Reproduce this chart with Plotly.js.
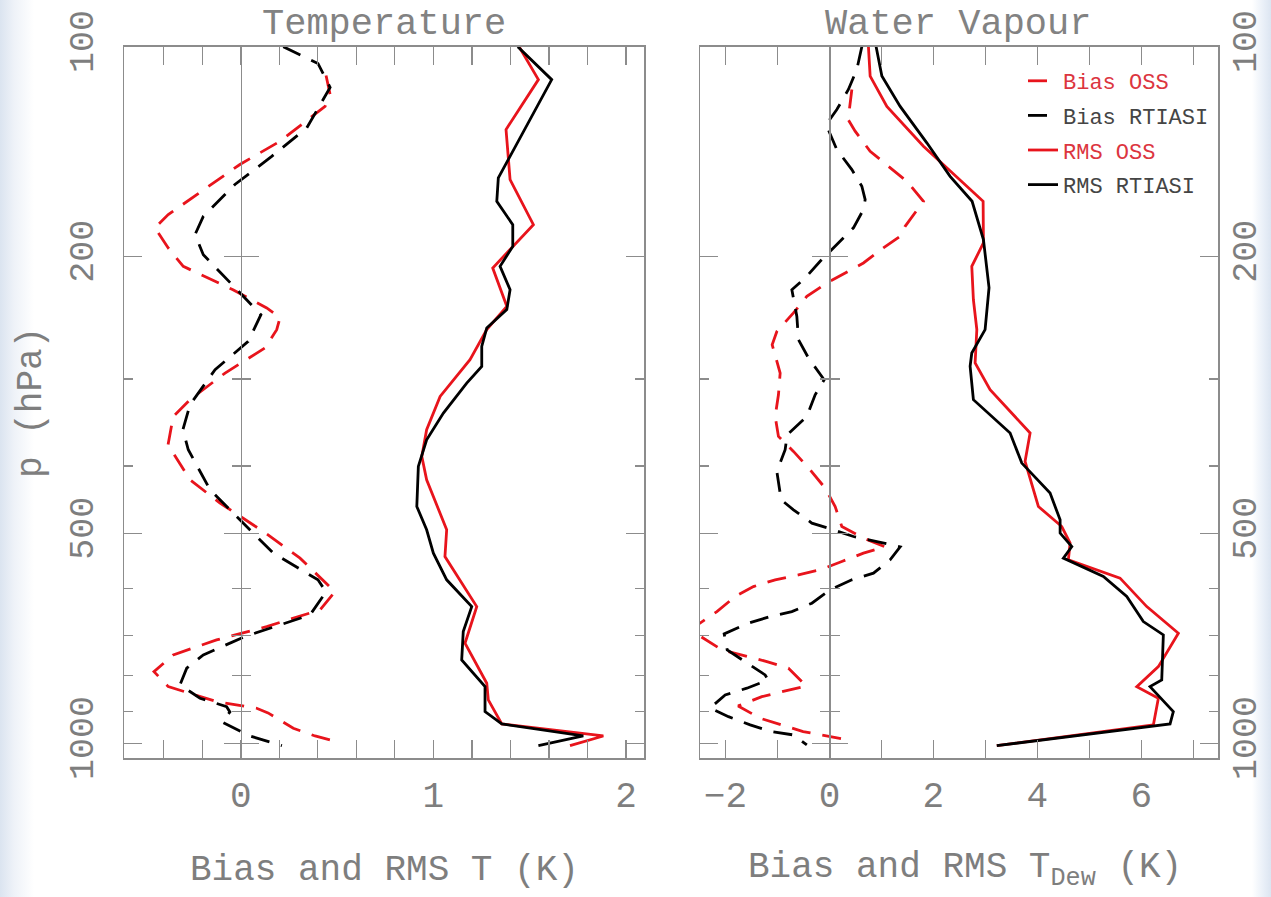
<!DOCTYPE html>
<html>
<head>
<meta charset="utf-8">
<script src="https://cdn.plot.ly/plotly-3.0.1.min.js"></script>
<style>
  html, body { margin: 0; padding: 0; }
  body {
    width: 1271px; height: 897px; overflow: hidden;
    background: linear-gradient(to right, #dbe4f0 0px, #eef2f8 14px, #ffffff 34px, #ffffff 1252px, #eaf0f8 1263px, #dce5f1 1271px);
  }
  #chart { width: 1271px; height: 897px; }
</style>
</head>
<body>
<div id="chart"></div>
<script>
// ---- Temperature profiles (pressure in hPa, values in K) ----
const tBiasOssP = [110.0, 117.1, 121.8, 136.7, 147.6, 160.4, 174.2, 181.9, 194.5, 206.7, 223.3, 237.2, 244.9, 254.8, 270.7, 294.1, 321.2, 339.5, 372.8, 418.5, 452.1, 496.6, 542.3, 606.2, 643.4, 680.0, 710.6, 746.7, 789.1, 829.3, 871.4, 890.7, 904.6, 951.6, 976.2, 995.7];
const tBiasOss  = [0.443, 0.464, 0.438, 0.204, -0.004, -0.194, -0.376, -0.445, -0.376, -0.298, -0.040, 0.135, 0.204, 0.187, 0.126, -0.081, -0.263, -0.350, -0.377, -0.263, -0.107, 0.117, 0.308, 0.489, 0.412, 0.135, -0.125, -0.350, -0.450, -0.376, -0.125, 0.083, 0.142, 0.273, 0.386, 0.505];

const tBiasRtP = [100, 105.7, 114.4, 130.8, 143.7, 157.7, 175.2, 186.1, 198.9, 221.8, 242.5, 264.9, 290.9, 326.6, 354.7, 379.0, 432.6, 480.5, 533.4, 582.6, 606.2, 654.2, 702.8, 746.7, 780.3, 824.6, 861.7, 886.0, 901.7, 932.0, 976.2, 1008];
const tBiasRt  = [0.221, 0.401, 0.464, 0.343, 0.161, -0.030, -0.194, -0.237, -0.194, -0.030, 0.105, 0.039, -0.133, -0.263, -0.300, -0.272, -0.159, 0.005, 0.169, 0.401, 0.443, 0.360, 0.022, -0.194, -0.280, -0.315, -0.211, -0.073, -0.056, -0.097, 0.048, 0.214];

const tRmsOssP = [100, 111.5, 131.5, 155.2, 180.1, 207.8, 235.9, 254.8, 281.4, 317.8, 354.7, 387.5, 418.5, 493.8, 539.4, 579.4, 636.5, 718.4, 820.0, 866.6, 938.2, 976.2, 1008];
const tRmsOss  = [1.445, 1.545, 1.377, 1.398, 1.519, 1.308, 1.381, 1.277, 1.190, 1.035, 0.965, 0.940, 0.965, 1.069, 1.060, 1.130, 1.225, 1.164, 1.277, 1.285, 1.355, 1.882, 1.709];

const tRmsRtP = [100, 111.5, 154.3, 166.7, 180.1, 193.5, 206.7, 223.3, 238.5, 253.4, 269.3, 287.7, 304.0, 335.7, 366.7, 400.5, 457.2, 493.8, 533.4, 582.6, 636.5, 691.3, 759.2, 829.3, 900.8, 938.2, 976.2, 1008];
const tRmsRt  = [1.438, 1.614, 1.337, 1.329, 1.412, 1.412, 1.346, 1.398, 1.381, 1.277, 1.251, 1.251, 1.173, 1.052, 0.965, 0.922, 0.914, 0.965, 1.000, 1.069, 1.199, 1.155, 1.147, 1.268, 1.268, 1.355, 1.778, 1.545];

// ---- Water vapour (dew point) profiles ----
const wBiasOssP = [115.2, 127.2, 132.2, 141.3, 148.5, 156.0, 166.7, 173.2, 181.1, 187.2, 194.5, 204.4, 211.3, 218.4, 228.3, 241.1, 256.3, 267.8, 294.1, 316.0, 339.5, 362.7, 381.1, 404.9, 430.2, 457.2, 488.5, 507.6, 522.4, 533.4, 548.4, 563.6, 573.1, 582.6, 595.7, 615.7, 647.1, 687.4, 734.4, 763.4, 780.3, 827.4, 857.1, 883.9, 920.6, 962.3, 989.1];
const wBiasOss  = [0.431, 0.360, 0.494, 0.783, 1.135, 1.488, 1.808, 1.648, 1.456, 1.360, 1.038, 0.654, 0.302, -0.050, -0.435, -0.692, -1.012, -1.102, -0.948, -0.981, -1.044, -0.981, -0.692, -0.371, -0.083, 0.110, 0.238, 0.654, 1.071, 0.654, 0.238, -0.179, -0.596, -1.044, -1.462, -1.813, -2.165, -2.679, -2.069, -1.204, -0.788, -0.448, -1.300, -1.756, -1.333, -0.506, 0.365];

const wBiasRtP = [100, 107.8, 115.2, 123.1, 129.4, 140.5, 150.1, 158.6, 165.8, 171.3, 182.0, 193.5, 203.3, 214.8, 223.3, 243.9, 263.4, 279.8, 300.7, 316.0, 339.5, 360.7, 379.0, 407.2, 447.2, 462.2, 483.0, 493.8, 504.9, 513.3, 522.4, 545.4, 569.9, 582.6, 602.2, 629.4, 647.1, 657.9, 672.4, 696.6, 734.4, 797.8, 811.1, 833.6, 852.3, 889.8, 915.8, 941.2, 962.3, 972.9, 1005.7];
const wBiasRt  = [0.623, 0.527, 0.365, 0.142, -0.063, 0.142, 0.431, 0.623, 0.687, 0.654, 0.462, 0.110, -0.179, -0.467, -0.723, -0.627, -0.596, -0.404, -0.102, -0.275, -0.435, -0.813, -0.852, -1.012, -0.929, -0.692, -0.338, 0.077, 0.462, 0.912, 1.360, 1.167, 0.846, 0.431, 0.013, -0.338, -0.723, -1.140, -1.558, -2.025, -1.967, -1.237, -1.179, -1.588, -2.006, -2.294, -1.942, -1.525, -1.108, -0.692, -0.435];

const wRmsOssP = [100, 110.2, 121.8, 139.0, 166.7, 191.3, 206.7, 230.8, 254.8, 284.5, 310.8, 358.6, 394.0, 457.2, 488.5, 516.0, 545.4, 579.4, 636.5, 695.0, 776.2, 829.3, 861.7, 941.2, 1008];
const wRmsOss  = [0.750, 0.783, 1.104, 1.808, 2.956, 2.962, 2.738, 2.769, 2.835, 2.802, 3.090, 3.860, 3.763, 4.019, 4.469, 4.629, 4.596, 5.590, 6.104, 6.712, 6.327, 5.912, 6.327, 6.231, 3.219];

const wRmsRtP = [100, 110.2, 121.8, 137.4, 153.5, 166.7, 189.2, 221.8, 254.8, 275.3, 287.7, 321.2, 358.6, 396.1, 437.4, 477.8, 499.2, 521.9, 542.3, 576.3, 615.7, 668.8, 698.9, 811.1, 829.3, 900.8, 938.2, 1008];
const wRmsRt  = [0.898, 1.008, 1.360, 1.873, 2.321, 2.744, 2.962, 3.070, 2.994, 2.738, 2.706, 2.769, 3.475, 3.700, 4.244, 4.437, 4.437, 4.662, 4.500, 5.269, 5.719, 6.038, 6.423, 6.392, 6.167, 6.615, 6.552, 3.219];

// ---- Axis ticks and labels ----
const pMajor = [100, 200, 500, 1000];
const pMinor = [300, 400, 600, 700, 800, 900];
const tTicks = [0, 1, 2];
const wTicks = [-2, 0, 2, 4, 6];
const seriesNames = ['Bias OSS', 'Bias RTIASI', 'RMS OSS', 'RMS RTIASI'];
const panelTitles = ['Temperature', 'Water Vapour'];
const xTitles = ['Bias and RMS T (K)', 'Bias and RMS T<sub>Dew</sub> (K)'];
const yTitle = 'p (hPa)';

// ---- Styling ----
const FONT = 'Liberation Mono, Courier New, monospace';
const RED = '#e8141c';
const BLACK = '#000000';
const AXIS = '#8c8c8c';
const LABEL = '#7e7e7e';
const DASH = '19px,12px';
const W = 1271, H = 897;

const pRange = [Math.log10(1051), 2];   // log axis, reversed (100 hPa on top)

function profile(x, p, color, dash, name, group, xa, ya, legend, textColor) {
  return {
    type: 'scatter', mode: 'lines', x: x, y: p, xaxis: xa, yaxis: ya,
    line: { color: color, width: 2.8, dash: dash },
    name: '<span style="color:' + textColor + '">' + name + '</span>',
    legendgroup: group, showlegend: legend, hoverinfo: 'skip'
  };
}

const data = [
  profile(tBiasOss, tBiasOssP, RED, DASH, seriesNames[0], 'g1', 'x', 'y', true, '#dc3540'),
  profile(tBiasRt, tBiasRtP, BLACK, DASH, seriesNames[1], 'g2', 'x', 'y', true, '#454545'),
  profile(tRmsOss, tRmsOssP, RED, 'solid', seriesNames[2], 'g3', 'x', 'y', true, '#dc3540'),
  profile(tRmsRt, tRmsRtP, BLACK, 'solid', seriesNames[3], 'g4', 'x', 'y', true, '#454545'),
  profile(wBiasOss, wBiasOssP, RED, DASH, seriesNames[0], 'g1', 'x2', 'y2', false, '#dc3540'),
  profile(wBiasRt, wBiasRtP, BLACK, DASH, seriesNames[1], 'g2', 'x2', 'y2', false, '#454545'),
  profile(wRmsOss, wRmsOssP, RED, 'solid', seriesNames[2], 'g3', 'x2', 'y2', false, '#dc3540'),
  profile(wRmsRt, wRmsRtP, BLACK, 'solid', seriesNames[3], 'g4', 'x2', 'y2', false, '#454545'),
  // empty carriers for the zero-line axes
  { type: 'scatter', x: [], y: [], xaxis: 'x', yaxis: 'y3', showlegend: false, hoverinfo: 'skip' },
  { type: 'scatter', x: [], y: [], xaxis: 'x', yaxis: 'y4', showlegend: false, hoverinfo: 'skip' },
  { type: 'scatter', x: [], y: [], xaxis: 'x2', yaxis: 'y5', showlegend: false, hoverinfo: 'skip' },
  { type: 'scatter', x: [], y: [], xaxis: 'x2', yaxis: 'y6', showlegend: false, hoverinfo: 'skip' }
];

// plot-area geometry (pixels)
const leftBox = { x0: 124.3, x1: 644.0 };
const rightBox = { x0: 700.0, x1: 1218.3 };
const yTop = 46.7, yBot = 758.3;
const yDomain = [1 - yBot / H, 1 - yTop / H];
const tRange = [-0.604, 2.093];
const wRange = [-2.49, 7.48];

function xAxis(domain, range, ticks, minorStep, anchor) {
  return {
    domain: domain, range: range, anchor: anchor, autorange: false,
    tickmode: 'array', tickvals: ticks,
    ticks: 'inside', ticklen: 18, tickwidth: 1.3, tickcolor: AXIS,
    minor: { tickmode: 'linear', tick0: 0, dtick: minorStep, ticks: 'inside', ticklen: 9, tickwidth: 1.3, tickcolor: AXIS },
    showline: true, linecolor: AXIS, linewidth: 1.5, mirror: 'allticks',
    showgrid: false, zeroline: false,
    tickfont: { family: FONT, size: 36, color: LABEL },
    ticklabelstandoff: 4
  };
}

function yAxis(anchor, side, standoff) {
  return {
    domain: yDomain, type: 'log', range: pRange, autorange: false, anchor: anchor, side: side,
    tickmode: 'array', tickvals: pMajor, ticktext: pMajor.map(String), tickangle: -90,
    ticks: 'inside', ticklen: 18, tickwidth: 1.3, tickcolor: AXIS,
    minor: { tickmode: 'array', tickvals: pMinor, ticks: 'inside', ticklen: 9, tickwidth: 1.3, tickcolor: AXIS },
    showline: true, linecolor: AXIS, linewidth: 1.5, mirror: 'allticks',
    showgrid: false, zeroline: false, showticklabels: true,
    tickfont: { family: FONT, size: 35, color: LABEL },
    ticklabelstandoff: standoff
  };
}

// vertical line at zero with ticks on both sides
function zeroAxis(over, xPix, side) {
  return {
    overlaying: over, anchor: 'free', position: xPix / W, side: side,
    domain: yDomain, type: 'log', range: pRange, autorange: false,
    tickmode: 'array', tickvals: pMajor, showticklabels: false,
    ticks: 'outside', ticklen: 17, tickwidth: 1.3, tickcolor: AXIS,
    minor: { tickmode: 'array', tickvals: pMinor, ticks: 'outside', ticklen: 9, tickwidth: 1.3, tickcolor: AXIS },
    showline: true, linecolor: AXIS, linewidth: 1.3,
    showgrid: false, zeroline: false
  };
}

const zeroLeftPix = 240.7, zeroRightPix = 829.3;

const titleFont = { family: FONT, size: 37, color: '#828282' };
const axTitleFont = { family: FONT, size: 36, color: '#7e7e7e' };

const layout = {
  width: W, height: H,
  margin: { l: 0, r: 0, t: 0, b: 0 },
  paper_bgcolor: 'rgba(0,0,0,0)',
  plot_bgcolor: '#ffffff',
  showlegend: true,
  xaxis: xAxis([leftBox.x0 / W, leftBox.x1 / W], tRange, tTicks, 0.2, 'y'),
  xaxis2: xAxis([rightBox.x0 / W, rightBox.x1 / W], wRange, wTicks, 1, 'y2'),
  yaxis: yAxis('x', 'left', 16),
  yaxis2: yAxis('x2', 'right', -6),
  yaxis3: zeroAxis('y', zeroLeftPix, 'left'),
  yaxis4: zeroAxis('y', zeroLeftPix, 'right'),
  yaxis5: zeroAxis('y2', zeroRightPix, 'left'),
  yaxis6: zeroAxis('y2', zeroRightPix, 'right'),
  legend: {
    x: 1023 / W, xanchor: 'left', y: 1 - 60 / H, yanchor: 'top',
    bgcolor: 'rgba(0,0,0,0)', borderwidth: 0,
    font: { family: FONT, size: 22, color: '#454545' },
    tracegroupgap: 3, itemwidth: 30, traceorder: 'grouped'
  },
  annotations: [
    { text: panelTitles[0], xref: 'paper', yref: 'paper', x: 384.5 / W, y: 1 - 24 / H, xanchor: 'center', yanchor: 'middle', showarrow: false, font: titleFont },
    { text: panelTitles[1], xref: 'paper', yref: 'paper', x: 958 / W, y: 1 - 24 / H, xanchor: 'center', yanchor: 'middle', showarrow: false, font: titleFont },
    { text: xTitles[0], xref: 'paper', yref: 'paper', x: 384.5 / W, y: 1 - 870 / H, xanchor: 'center', yanchor: 'middle', showarrow: false, font: axTitleFont },
    { text: xTitles[1], xref: 'paper', yref: 'paper', x: 965 / W, y: 1 - 870 / H, xanchor: 'center', yanchor: 'middle', showarrow: false, font: axTitleFont },
    { text: yTitle, xref: 'paper', yref: 'paper', x: 31 / W, y: 1 - 403 / H, xanchor: 'center', yanchor: 'middle', textangle: -90, showarrow: false, font: axTitleFont }
  ]
};

Plotly.newPlot('chart', data, layout, { staticPlot: true, displayModeBar: false });
</script>
</body>
</html>
